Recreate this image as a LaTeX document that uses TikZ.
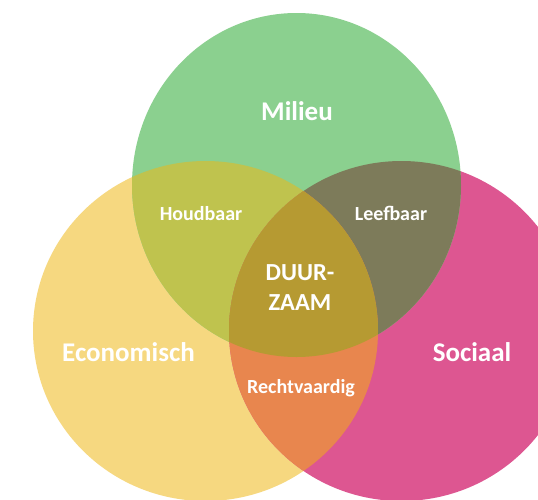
\documentclass[tikz,border=0pt]{standalone}
\usepackage{fontspec}
\setmainfont{Carlito}
\definecolor{gcol}{RGB}{139,208,143}
\definecolor{ycol}{RGB}{246,216,128}
\definecolor{pcol}{RGB}{221,86,145}
\definecolor{gycol}{RGB}{191,195,78}
\definecolor{gpcol}{RGB}{125,123,90}
\definecolor{ypcol}{RGB}{232,134,78}
\definecolor{allcol}{RGB}{182,154,50}
\begin{document}
\begin{tikzpicture}[x=1pt,y=-1pt,
  big/.style={text=white,font=\bfseries\fontsize{27}{30}\selectfont,inner sep=0pt,anchor=base},
  small/.style={text=white,font=\bfseries\fontsize{20}{24}\selectfont,inner sep=0pt,anchor=base},
  mid/.style={text=white,font=\bfseries\fontsize{24.5}{30}\selectfont,inner sep=0pt,anchor=base}]
\useasboundingbox (0,0) rectangle (538,499);
\clip (0,0) rectangle (538,499);
\def\Gp{(296.5,185) ellipse [x radius=164.5pt, y radius=172pt]}
\def\Yp{(205.5,331) ellipse [x radius=172.5pt, y radius=170pt]}
\def\Pp{(401.5,331) ellipse [x radius=172.5pt, y radius=170pt]}
\fill[white] (0,0) rectangle (538,499);
\fill[ycol] \Yp;
\fill[pcol] \Pp;
\fill[gcol] \Gp;
\begin{scope}\clip \Gp; \fill[gycol] \Yp; \fill[gpcol] \Pp; \end{scope}
\begin{scope}\clip \Yp; \fill[ypcol] \Pp; \end{scope}
\begin{scope}\clip \Gp; \clip \Yp; \fill[allcol] \Pp; \end{scope}
\node[big] (milieu) at (297,120) {Milieu};
\node[big] (econ) at (128.5,361) {Economisch};
\node[big] (soc) at (472,361) {Sociaal};
\node[small] (houd) at (201,220) {Houdbaar};
\node[small] (leef) at (391,220) {Leefbaar};
\node[small] (recht) at (301,393) {Rechtvaardig};
\node[mid] (duur) at (300,280) {DUUR-};
\node[mid] (zaam) at (300,310) {ZAAM};
\end{tikzpicture}
\end{document}
